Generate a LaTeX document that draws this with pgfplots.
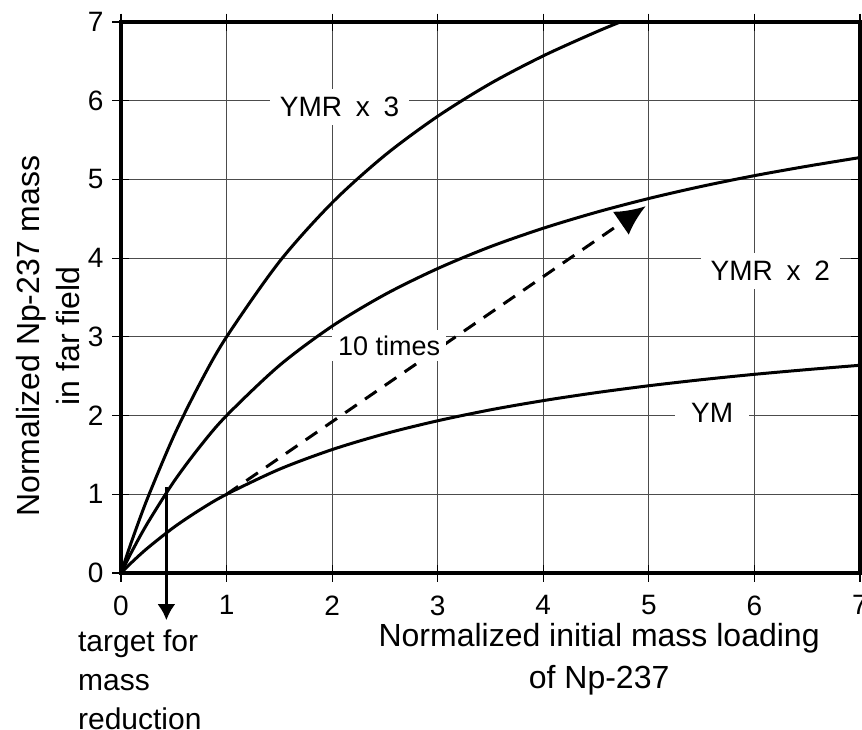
\documentclass[border=0pt]{standalone}
\usepackage{fontspec}
\setmainfont{Liberation Sans}
\usepackage{pgfplots}
\pgfplotsset{compat=1.18}
\usetikzlibrary{arrows.meta}

\begin{document}
\begin{tikzpicture}
\useasboundingbox (-60.5pt,-78pt) rectangle (370.5pt,286.5pt);
\begin{axis}[
    scale only axis,
    width=369.5pt, height=275.5pt,
    xmin=0, xmax=7, ymin=0, ymax=7,
    xtick={0,...,7}, ytick={0,...,7},
    grid=major,
    major grid style={black!70, line width=0.5pt},
    axis line style={line width=2pt},
    tick align=center,
    major tick length=8.5pt,
    tick style={black, line width=0.6pt},
    /pgf/number format/assume math mode=true,
    ticklabel style={font=\fontsize{14}{16}\selectfont},
    xticklabel style={yshift=-3.5pt},
    yticklabel style={xshift=-1pt},
    xlabel={Normalized initial mass loading\\of Np-237},
    xlabel style={font=\fontsize{16}{21}\selectfont, align=center,
        at={(axis description cs:0.647,-0.157)}, anchor=center},
    ylabel={Normalized Np-237 mass\\in far field},
    ylabel style={font=\fontsize{16}{20}\selectfont, align=center,
        at={(axis description cs:-0.099,0.43)}, anchor=center},
    clip=false,
    every axis plot/.append style={line width=1.5pt, black},
]
% YM
\addplot[smooth] coordinates {
 (0,0) (0.1,0.133) (0.25,0.315) (0.5,0.580) (0.75,0.805) (1,1.0)
 (1.5,1.318) (2,1.568) (2.5,1.769) (3,1.934) (3.5,2.073) (4,2.190)
 (4.5,2.291) (5,2.379) (5.5,2.456) (6,2.524) (6.5,2.584) (7,2.639)};
% YMR x 2
\addplot[smooth] coordinates {
 (0,0) (0.1,0.266) (0.25,0.63) (0.5,1.16) (0.75,1.61) (1,2.0)
 (1.5,2.636) (2,3.136) (2.5,3.538) (3,3.868) (3.5,4.146) (4,4.38)
 (4.5,4.582) (5,4.758) (5.5,4.912) (6,5.048) (6.5,5.168) (7,5.278)};
% YMR x 3
\addplot[smooth] coordinates {
 (0,0) (0.1,0.399) (0.25,0.945) (0.5,1.74) (0.75,2.415) (1,3.0)
 (1.5,3.954) (2,4.704) (2.5,5.307) (3,5.802) (3.5,6.219) (4,6.57)
 (4.5,6.873) (4.73,7.0)};
% 10 times arrow
\addplot[dash pattern=on 7pt off 5pt, -{Latex[length=15pt,width=14pt]}]
  coordinates {(1,1) (4.97,4.66)};
% target arrow
\addplot[-{Latex[length=8pt,width=9pt]}] coordinates {(0.43,1.09) (0.43,-0.6)};

\node[fill=white, inner xsep=5pt, inner ysep=4pt, font=\fontsize{14}{16}\selectfont] at (axis cs:2.07,5.92) {YMR\hspace{3pt} x\hspace{3pt} 3};
\node[fill=white, inner xsep=5pt, inner ysep=4pt, font=\fontsize{14}{16}\selectfont] at (axis cs:6.15,3.84) {YMR\hspace{3pt} x\hspace{3pt} 2};
\node[fill=white, inner sep=3pt, font=\fontsize{13.5}{16}\selectfont] at (axis cs:2.54,2.89) {10 times};
\node[fill=white, inner xsep=8pt, inner ysep=4pt, font=\fontsize{14}{16}\selectfont] at (axis cs:5.60,2.03) {YM};
\node[anchor=north west, align=left, inner sep=0pt, font=\fontsize{15}{19.5}\selectfont]
  at (axis cs:-0.41,-0.72) {target for\\mass\\reduction};
\end{axis}
\end{tikzpicture}
\end{document}
